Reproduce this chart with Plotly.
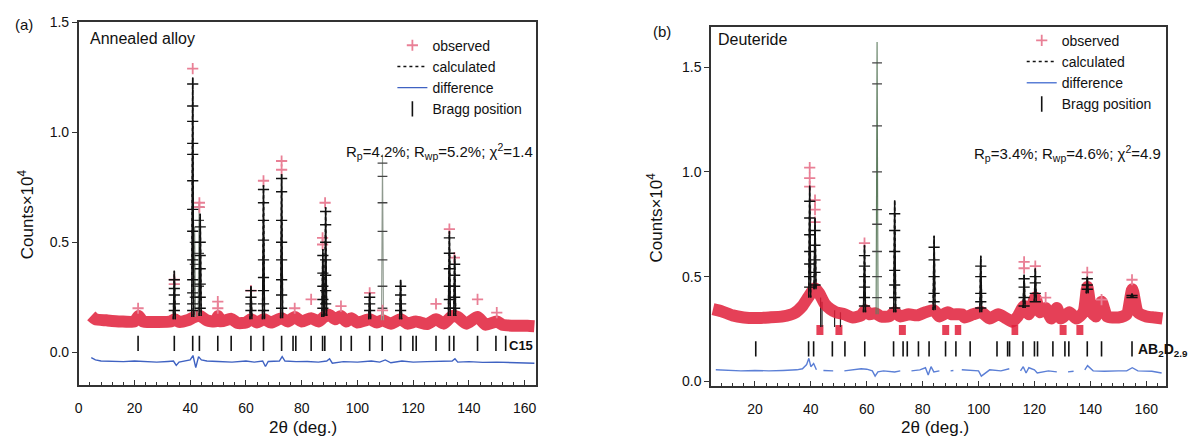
import plotly.graph_objects as go

# ---------------- Panel (a): annealed alloy ----------------
a_bg_x = [4.5, 6, 10, 15, 20, 21.5, 23, 28, 33, 34.5, 36, 39, 41.5, 43.5, 46, 49, 50, 51, 54.7, 57, 60, 61.8,
          64, 66.5, 69, 72.8, 75, 77.5, 80, 83.4, 86, 88, 90, 92, 94.1, 96, 97.8, 100, 104.4, 107, 109, 112,
          115.5, 118, 121, 125, 128.2, 131, 134, 136, 139, 143.1, 146, 150, 152, 157, 161, 163.5]
a_bg_y = [0.165, 0.15, 0.145, 0.14, 0.14, 0.165, 0.14, 0.138, 0.14, 0.15, 0.138, 0.145, 0.16, 0.165, 0.145,
          0.14, 0.165, 0.14, 0.152, 0.133, 0.135, 0.15, 0.135, 0.15, 0.135, 0.155, 0.14, 0.16, 0.14, 0.155,
          0.14, 0.16, 0.17, 0.15, 0.165, 0.14, 0.155, 0.135, 0.15, 0.135, 0.145, 0.13, 0.15, 0.13, 0.14,
          0.128, 0.15, 0.13, 0.165, 0.16, 0.13, 0.16, 0.125, 0.14, 0.125, 0.12, 0.12, 0.118]

a_obs_x = [21.3, 34.3, 34.3, 40.9, 43.3, 43.3, 49.9, 49.9, 61.8, 66.3, 72.8, 72.8, 77.5, 83.4, 87.5, 87.5,
           88.4, 94.1, 104.4, 109.0, 128.2, 133.0, 134.8, 143.1, 150.0]
a_obs_y = [0.20, 0.31, 0.33, 1.29, 0.68, 0.66, 0.23, 0.20, 0.28, 0.78, 0.87, 0.83, 0.20, 0.24, 0.52, 0.49,
           0.68, 0.21, 0.27, 0.19, 0.22, 0.56, 0.43, 0.24, 0.18]

a_pk_x = [34.3, 40.9, 43.6, 61.8, 66.3, 72.8, 87.6, 88.6, 104.4, 115.5, 133.0, 134.9]
a_pk_base = [0.15, 0.16, 0.165, 0.15, 0.15, 0.155, 0.16, 0.165, 0.15, 0.15, 0.165, 0.165]
a_pk_top = [0.37, 1.25, 0.63, 0.30, 0.76, 0.81, 0.47, 0.66, 0.27, 0.33, 0.55, 0.44]
a_pk_levels = [
    [0.19, 0.22, 0.26, 0.29, 0.33],
    [0.19, 0.22, 0.27, 0.33, 0.42, 0.55, 0.65, 0.78, 0.90, 0.95, 1.05, 1.12, 1.22],
    [0.20, 0.25, 0.31, 0.38, 0.44, 0.50, 0.57],
    [0.19, 0.22, 0.25, 0.28],
    [0.19, 0.22, 0.28, 0.34, 0.42, 0.51, 0.60, 0.68, 0.74],
    [0.20, 0.26, 0.33, 0.42, 0.50, 0.60, 0.73, 0.79],
    [0.20, 0.24, 0.30, 0.36, 0.44],
    [0.22, 0.28, 0.35, 0.42, 0.50, 0.58, 0.64],
    [0.19, 0.22, 0.25],
    [0.19, 0.22, 0.26, 0.30],
    [0.20, 0.24, 0.30, 0.38, 0.45, 0.52],
    [0.20, 0.25, 0.30, 0.35, 0.40],
]
a_grey_x = [41.6, 43.2, 109.0]
a_grey_base = [0.16, 0.165, 0.145]
a_grey_top = [0.57, 0.68, 0.90]
a_grey_levels = [[0.25, 0.4, 0.5], [0.3, 0.45, 0.6, 0.66], [0.2, 0.3, 0.42, 0.55, 0.68, 0.80, 0.86]]

a_bragg = [21.3, 34.3, 40.9, 43.3, 49.9, 54.7, 61.8, 66.3, 72.8, 76.9, 77.9, 83.4, 87.5, 88.3, 94.1, 97.8,
           104.4, 108.9, 115.5, 119.9, 121.1, 128.2, 133.0, 134.6, 143.1, 149.7, 153.2]
a_bragg_level = 0.04

a_diff_x = [4.5, 6, 8, 12, 16, 20, 24, 28, 32, 34, 35, 36, 40, 41, 42, 43, 44, 46, 50, 55, 60, 63, 66, 67,
            68, 72, 73, 74, 78, 82, 86, 89, 90, 91, 95, 100, 105, 108, 110, 112, 116, 120, 125, 130, 134,
            135, 136, 140, 145, 150, 155, 160, 163.5]
a_diff_y = [-0.025, -0.035, -0.04, -0.042, -0.043, -0.04, -0.042, -0.045, -0.042, -0.04, -0.06, -0.045,
            -0.035, -0.015, -0.07, -0.02, -0.035, -0.04, -0.042, -0.045, -0.04, -0.045, -0.04, -0.065,
            -0.042, -0.04, -0.02, -0.04, -0.043, -0.042, -0.045, -0.04, -0.03, -0.05, -0.043, -0.045,
            -0.04, -0.045, -0.035, -0.048, -0.04, -0.045, -0.043, -0.042, -0.04, -0.03, -0.045, -0.043,
            -0.046, -0.045, -0.047, -0.046, -0.05]

# ---------------- Panel (b): deuteride ----------------
b_bg_x = [5, 8, 12, 16, 20, 25, 30, 34, 37, 39, 41.5, 43, 45, 47, 49, 52, 55, 58, 59.5, 61, 63, 65, 68, 70,
          72, 75, 78, 81, 84, 86, 89, 90.5, 94, 95, 98, 101, 104, 107, 110, 112,
          114, 116.3, 118, 120.3, 122, 124, 126, 128, 129.5, 132.5, 135, 137.5, 138.9, 140.5,
          142, 144, 146, 150, 153, 155, 157, 160, 163, 165.8]
b_bg_y = [0.345, 0.335, 0.315, 0.305, 0.302, 0.305, 0.31, 0.325, 0.36, 0.40, 0.445, 0.42, 0.37, 0.345,
          0.33, 0.32, 0.305, 0.315, 0.34, 0.32, 0.325, 0.31, 0.31, 0.33, 0.31, 0.32, 0.315, 0.33,
          0.34, 0.31, 0.33, 0.32, 0.32, 0.305, 0.32, 0.33, 0.30, 0.32, 0.30, 0.285,
          0.31, 0.36, 0.32, 0.40, 0.33, 0.35, 0.30, 0.35, 0.30, 0.33, 0.30, 0.33, 0.45, 0.33,
          0.31, 0.38, 0.31, 0.305, 0.32, 0.44, 0.33, 0.31, 0.305, 0.30]

b_excl_start = [42.0, 48.8, 71.5, 87.0, 91.5, 111.8, 129.0, 135.0]
b_excl_end = [44.5, 51.3, 74.0, 89.5, 93.8, 114.2, 131.5, 137.5]
b_excl_level = [0.245, 0.245, 0.245, 0.245, 0.245, 0.245, 0.245, 0.245]

b_obs_x = [39.6, 39.6, 39.6, 41.5, 41.5, 41.5, 59.2, 116.3, 116.3, 120.3, 138.9, 154.9, 144.0, 124.0]
b_obs_y = [1.02, 0.97, 0.93, 0.865, 0.82, 0.76, 0.66, 0.57, 0.54, 0.55, 0.52, 0.485, 0.39, 0.40]

b_pk_x = [39.6, 41.5, 59.2, 70.0, 84.1, 100.8, 116.3, 120.3, 138.9, 154.9]
b_pk_base = [0.40, 0.44, 0.33, 0.33, 0.34, 0.33, 0.35, 0.38, 0.42, 0.40]
b_pk_top = [0.935, 0.78, 0.65, 0.865, 0.695, 0.60, 0.51, 0.54, 0.50, 0.42]
b_pk_levels = [
    [0.45, 0.50, 0.56, 0.62, 0.70, 0.78, 0.86],
    [0.46, 0.52, 0.58, 0.65, 0.72],
    [0.36, 0.40, 0.45, 0.50, 0.55, 0.60],
    [0.35, 0.40, 0.46, 0.53, 0.62, 0.72, 0.80],
    [0.38, 0.42, 0.50, 0.58, 0.64],
    [0.35, 0.38, 0.42, 0.50, 0.55],
    [0.36, 0.40, 0.45, 0.49],
    [0.38, 0.42, 0.47, 0.50],
    [0.44, 0.46, 0.49],
    [0.40, 0.41],
]
b_green_x = [63.7]
b_green_base = [0.32]
b_green_top = [1.62]
b_green_levels = [[0.40, 0.50, 0.62, 0.75, 0.82, 1.00, 1.22, 1.42, 1.52]]

b_drop_x = [43.5, 44.0, 48.5, 50.6]
b_drop_top = [0.40, 0.38, 0.34, 0.33]
b_drop_bottom = [0.26, 0.26, 0.26, 0.26]

b_bragg = [20.3, 39.2, 41.0, 47.7, 52.2, 59.3, 69.6, 73.0, 74.5, 78.5, 82.3, 88.2, 91.9, 97.0, 106.6, 110.4,
           111.1, 115.9, 120.0, 121.1, 126.6, 130.9, 132.3, 138.9, 144.0, 154.9]
b_bragg_level = 0.155

b_diff_x = [6, 10, 15, 20, 25, 30, 35, 37, 38.5, 39.3, 40, 41, 42, None, 44.5, 46, 48, None, 52, 55, 58, 60,
            62, 63, 64, 66, 70, 72, None, 76, 79, 81, 82, 83, 84, 86, None, 90, 91, None, 94, 97, 100, 101,
            104, 108, 111, None, 115, 116, 117, 118, 120, 121, 125, 128, None, 132, 134, None, 138, 139,
            141, 145, 150, 153, 155, 157, 162, 165.5]
b_diff_y = [0.055, 0.052, 0.05, 0.052, 0.05, 0.052, 0.055, 0.06, 0.08, 0.11, 0.07, 0.085, 0.055, None,
            0.052, 0.05, 0.05, None, 0.05, 0.055, 0.06, 0.058, 0.05, 0.025, 0.045, 0.05, 0.045, 0.05, None,
            0.05, 0.055, 0.065, 0.03, 0.07, 0.045, 0.05, None, 0.05, 0.052, None, 0.055, 0.052, 0.05, 0.025,
            0.055, 0.05, 0.06, None, 0.05, 0.07, 0.04, 0.065, 0.055, 0.04, 0.05, 0.045, None, 0.045, 0.048,
            None, 0.055, 0.075, 0.05, 0.048, 0.05, 0.05, 0.065, 0.05, 0.048, 0.04]

# ---------------- styles ----------------
FONT = "Liberation Sans, Arial, sans-serif"
BAND = "rgba(224,30,58,0.85)"
PINK = "#e98096"
SPIKE_HW = 0.35
TXT = "#111111"

# page body has an 8px margin; the figure is sized to fit inside the window
OFF = 8
FW, FH = 1185, 430


def px(x):
    return (x - OFF) / FW


def py(y):
    return 1 - (y - OFF) / FH


def spike_xy(xs, bases, tops):
    X, Y = [], []
    for x, b, t in zip(xs, bases, tops):
        X += [x - SPIKE_HW, x, x + SPIKE_HW, None]
        Y += [b, t, b, None]
    return X, Y


def level_xy(xs, levels):
    X, Y = [], []
    for x, lv in zip(xs, levels):
        X += [x] * len(lv)
        Y += lv
    return X, Y


def seg_xy(starts, ends, levels):
    X, Y = [], []
    for s, e, l in zip(starts, ends, levels):
        X += [s, e, None]
        Y += [l, l, None]
    return X, Y


def vline_xy(xs, bottoms, tops):
    X, Y = [], []
    for x, b, t in zip(xs, bottoms, tops):
        X += [x, x, None]
        Y += [b, t, None]
    return X, Y


fig = go.Figure()


def add_panel(xa, ya, leg, bg_x, bg_y, obs_x, obs_y, pk_x, pk_b, pk_t, pk_lv, g_x, g_b, g_t, g_lv, g_col,
              bragg, bragg_lvl, dx, dy, diff_col):
    common = dict(xaxis=xa, yaxis=ya, legend=leg, hoverinfo="skip")
    fig.add_trace(go.Scatter(x=bg_x, y=bg_y, mode="lines", line=dict(color=BAND, width=12, shape="spline",
                                                                     smoothing=0.6),
                             showlegend=False, connectgaps=False, **common))
    gx, gy = spike_xy(g_x, g_b, g_t)
    fig.add_trace(go.Scatter(x=gx, y=gy, mode="lines", line=dict(color=g_col, width=1.1),
                             showlegend=False, **common))
    lx, ly = level_xy(g_x, g_lv)
    fig.add_trace(go.Scatter(x=lx, y=ly, mode="markers",
                             marker=dict(symbol="line-ew", size=7, line=dict(color="#444", width=1.3)),
                             showlegend=False, **common))
    fig.add_trace(go.Scatter(x=obs_x, y=obs_y, mode="markers", name="observed", legendrank=1,
                             marker=dict(symbol="cross-thin", size=8, line=dict(color=PINK, width=1.8)),
                             **common))
    sx, sy = spike_xy(pk_x, pk_b, pk_t)
    fig.add_trace(go.Scatter(x=sx, y=sy, mode="lines", name="calculated", legendrank=2,
                             line=dict(color="#111", width=1.5, dash="dot"), **common))
    lx, ly = level_xy(pk_x, pk_lv)
    fig.add_trace(go.Scatter(x=lx, y=ly, mode="markers", showlegend=False,
                             marker=dict(symbol="line-ew", size=8, line=dict(color="#111", width=1.4)),
                             **common))
    fig.add_trace(go.Scatter(x=sx, y=sy, mode="lines", showlegend=False,
                             line=dict(color="#111", width=1.5), **common))
    fig.add_trace(go.Scatter(x=dx, y=dy, mode="lines", name="difference", legendrank=3,
                             line=dict(color=diff_col, width=1.4), connectgaps=False, **common))
    fig.add_trace(go.Scatter(x=bragg, y=[bragg_lvl] * len(bragg), mode="markers", name="Bragg position",
                             legendrank=4,
                             marker=dict(symbol="line-ns", size=11, line=dict(color="#111", width=1.6)),
                             **common))


add_panel("x", "y", "legend", a_bg_x, a_bg_y, a_obs_x, a_obs_y, a_pk_x, a_pk_base, a_pk_top, a_pk_levels,
          a_grey_x, a_grey_base, a_grey_top, a_grey_levels, "#8f9a8f",
          a_bragg, a_bragg_level, a_diff_x, a_diff_y, "#3f62c2")

ex, ey = seg_xy(b_excl_start, b_excl_end, b_excl_level)
fig.add_trace(go.Scatter(x=ex, y=ey, mode="lines", line=dict(color=BAND, width=10), showlegend=False,
                         xaxis="x2", yaxis="y2", hoverinfo="skip"))
vx, vy = vline_xy(b_drop_x, b_drop_bottom, b_drop_top)
fig.add_trace(go.Scatter(x=vx, y=vy, mode="lines", line=dict(color="#222", width=1.2), showlegend=False,
                         xaxis="x2", yaxis="y2", hoverinfo="skip"))

add_panel("x2", "y2", "legend2", b_bg_x, b_bg_y, b_obs_x, b_obs_y, b_pk_x, b_pk_base, b_pk_top, b_pk_levels,
          b_green_x, b_green_base, b_green_top, b_green_levels, "#5f7d60",
          b_bragg, b_bragg_level, b_diff_x, b_diff_y, "#5b7fd6")

axis_common = dict(showline=True, linecolor="#333", linewidth=1.5, mirror=True, showgrid=False,
                   zeroline=False, tickfont=dict(family=FONT, size=14, color=TXT), tickcolor="#333",
                   ticklabeloverflow="allow")
xcommon = dict(axis_common, ticks="inside", ticklen=5, dtick=20, tickwidth=1.3, ticklabelstandoff=9,
               minor=dict(ticks="inside", ticklen=3, dtick=4, tickcolor="#333", tickwidth=1))
ycommon = dict(axis_common, ticks="outside", ticklen=5, dtick=0.5, tickformat=".1f", tickwidth=1.3)

leg_common = dict(xanchor="left", yanchor="top", bgcolor="rgba(0,0,0,0)",
                  font=dict(family=FONT, size=14, color=TXT), itemwidth=30, tracegroupgap=0,
                  traceorder="normal")

fig.update_layout(
    width=FW, height=FH, margin=dict(l=0, r=0, t=0, b=0),
    paper_bgcolor="white", plot_bgcolor="white",
    font=dict(family=FONT, color=TXT),
    xaxis=dict(xcommon, domain=[px(75), px(534)], range=[0, 164], anchor="y", tick0=0),
    yaxis=dict(ycommon, domain=[py(387), py(15)], range=[-0.15, 1.503], anchor="x"),
    xaxis2=dict(xcommon, domain=[px(710), px(1167)], range=[4.3, 167.1], anchor="y2", tick0=0),
    yaxis2=dict(ycommon, domain=[py(388), py(20)], range=[-0.023, 1.693], anchor="x2"),
    legend=dict(leg_common, x=px(390), y=py(23)),
    legend2=dict(leg_common, x=px(1022), y=py(18)),
    showlegend=True,
)

ann = [
    dict(text="(a)", x=20, y=18, font=dict(size=15)),
    dict(text="(b)", x=661, y=25, font=dict(size=15)),
    dict(text="Annealed alloy", x=84, y=32, xanchor="left", font=dict(size=16)),
    dict(text="Deuteride", x=715, y=33, xanchor="left", font=dict(size=16)),
    dict(text="R<sub>p</sub>=4.2%; R<sub>wp</sub>=5.2%; χ<sup>2</sup>=1.4", x=533, y=148,
         xanchor="right", font=dict(size=15)),
    dict(text="R<sub>p</sub>=3.4%; R<sub>wp</sub>=4.6%; χ<sup>2</sup>=4.9", x=1164, y=150,
         xanchor="right", font=dict(size=15)),
    dict(text="<b>C15</b>", x=533, y=346, xanchor="right", font=dict(size=13)),
    dict(text="<b>AB<sub>2</sub>D<sub>2.9</sub></b>", x=1137, y=351, xanchor="left", font=dict(size=14)),
    dict(text="Counts×10<sup>4</sup>", x=22, y=212, textangle=-90, font=dict(size=17)),
    dict(text="Counts×10<sup>4</sup>", x=654, y=215, textangle=-90, font=dict(size=17)),
    dict(text="2θ (deg.)", x=300, y=430, font=dict(size=17)),
    dict(text="2θ (deg.)", x=935, y=430, font=dict(size=17)),
]
for a in ann:
    a.setdefault("xanchor", "center")
    f = a.pop("font")
    a["x"] = px(a["x"])
    a["y"] = py(a["y"])
    fig.add_annotation(xref="paper", yref="paper", yanchor="middle", showarrow=False,
                       font=dict(family=FONT, color=TXT, **f), **a)

fig.write_html("out.html")
